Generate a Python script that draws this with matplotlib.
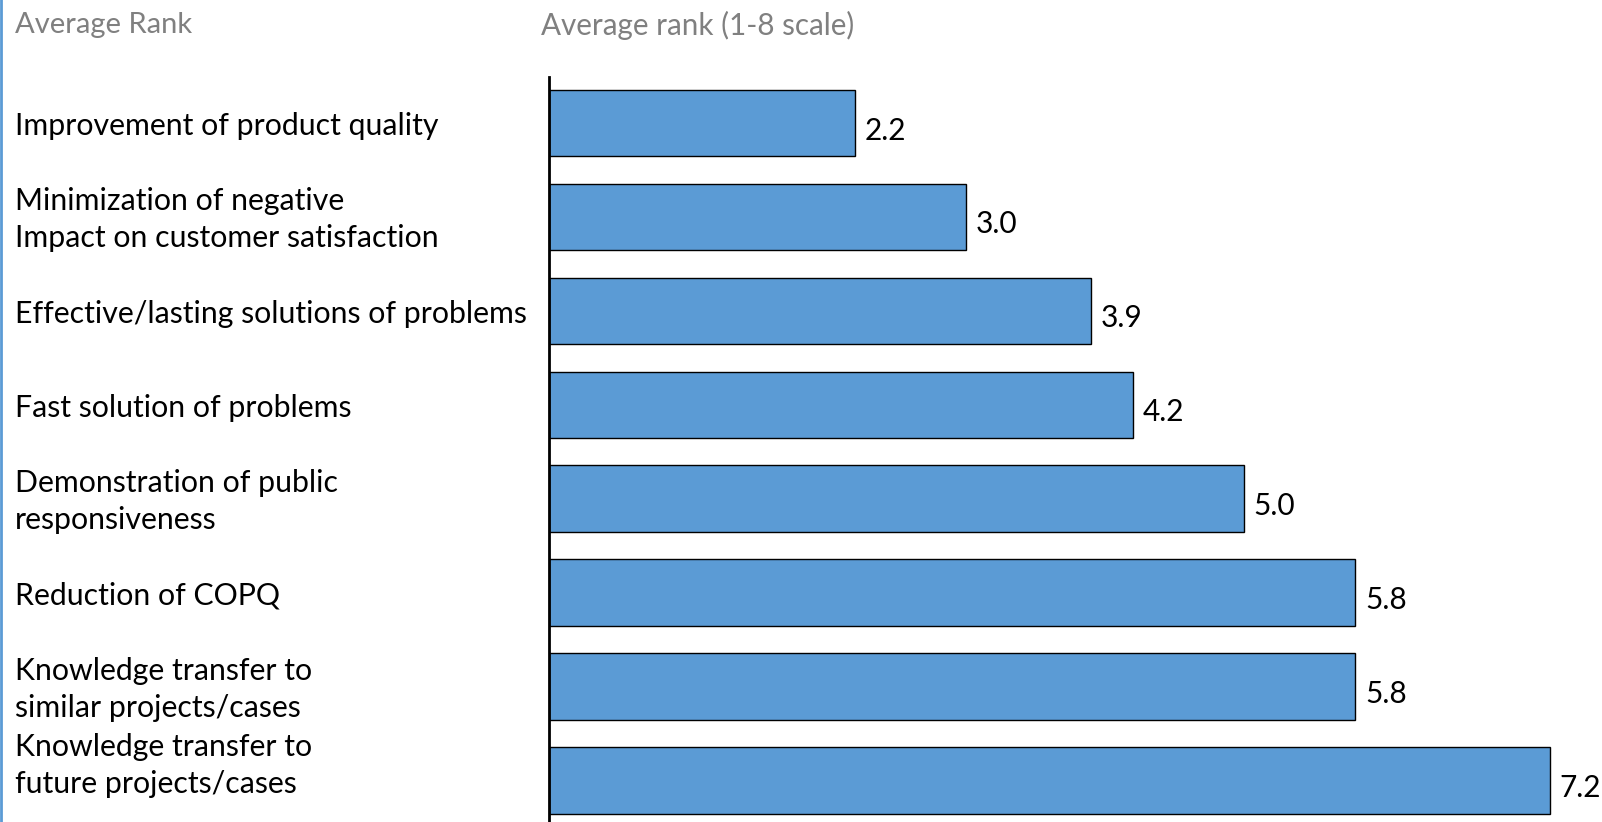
import matplotlib
matplotlib.use("Agg")
import matplotlib.pyplot as plt
from matplotlib.lines import Line2D

plt.rcParams['font.family'] = ['Lato', 'DejaVu Sans']

categories = [
    "Improvement of product quality",
    "Minimization of negative\nImpact on customer satisfaction",
    "Effective/lasting solutions of problems",
    "Fast solution of problems",
    "Demonstration of public\nresponsiveness",
    "Reduction of COPQ",
    "Knowledge transfer to\nsimilar projects/cases",
    "Knowledge transfer to\nfuture projects/cases",
]
values = [2.2, 3.0, 3.9, 4.2, 5.0, 5.8, 5.8, 7.2]
left_title = "Average Rank"
right_title = "Average rank (1-8 scale)"

W, H = 1602, 822
fig = plt.figure(figsize=(W / 100, H / 100), dpi=100)
fig.patch.set_facecolor("white")

ax = fig.add_axes([549 / W, 0, (W - 549) / W, (H - 77) / H])
ys = list(range(len(values)))
ax.barh(ys, values, height=0.71, color="#5b9bd5", edgecolor="black",
        linewidth=1.0)
ax.set_xlim(0, 7.575)
ax.set_ylim(7.44, -0.49)

for y, v in zip(ys, values):
    ax.text(v + 0.07, y + 0.08, f"{v:.1f}", va="center", ha="left",
            fontsize=21.5, color="black")

# category labels on the left, in figure coordinates
for y, lab in zip(ys, categories):
    shift = -0.19 if y == len(values) - 1 else 0
    yy = ax.transData.transform((0, y + shift + 0.03))[1] / fig.dpi / (H / 100)
    fig.text(15 / W, yy, lab, ha="left", va="center", fontsize=21.8,
             color="black", linespacing=1.38)

for s in ["top", "right", "bottom"]:
    ax.spines[s].set_visible(False)
ax.spines["left"].set_linewidth(2)
ax.set_xticks([])
ax.set_yticks([])

fig.text(15 / W, 1 - 25 / H, left_title, ha="left", va="center",
         fontsize=21, color="#808080")
fig.text(541 / W, 1 - 25 / H, right_title, ha="left", va="center",
         fontsize=21.3, color="#808080")

# thin blue border line on the left edge
fig.add_artist(Line2D([1 / W, 1 / W], [0, 1], color="#5b9bd5",
                      linewidth=2, transform=fig.transFigure))

fig.savefig("out.png", dpi=100)
